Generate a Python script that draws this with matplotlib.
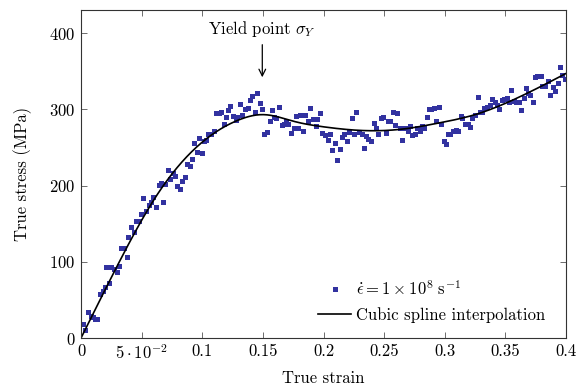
import numpy as np
import matplotlib
matplotlib.use("Agg")
import matplotlib.pyplot as plt

plt.rcParams['font.family'] = 'serif'
plt.rcParams['font.serif'] = ['cmr10']
plt.rcParams['mathtext.fontset'] = 'cm'
plt.rcParams['axes.formatter.use_mathtext'] = True
plt.rcParams['axes.unicode_minus'] = False

# measured points (true strain, true stress MPa)
strain = [0.0014, 0.0035, 0.006, 0.008, 0.0096, 0.0113, 0.0134, 0.0157, 0.018, 0.0195,
          0.021, 0.023, 0.025, 0.027, 0.0294, 0.0316, 0.033, 0.0355, 0.0377, 0.039,
          0.0415, 0.0437, 0.0454, 0.0476, 0.0497, 0.0514, 0.0536, 0.0558, 0.058, 0.0597,
          0.0616, 0.064, 0.066, 0.0676, 0.069, 0.0715, 0.0737, 0.0759, 0.0775, 0.079,
          0.0814, 0.0835, 0.0858, 0.0874, 0.0896, 0.0913, 0.0935, 0.0957, 0.0973, 0.0995,
          0.1017, 0.1034, 0.105, 0.107, 0.1094, 0.1116, 0.1138, 0.1155, 0.1177, 0.1193,
          0.1215, 0.123, 0.1254, 0.1276, 0.129, 0.1314, 0.133, 0.1353, 0.1375, 0.1397,
          0.1413, 0.1435, 0.1452, 0.1474, 0.1495, 0.1512, 0.1534, 0.1556, 0.1573, 0.1595,
          0.161, 0.1633, 0.1655, 0.1672, 0.1688, 0.171, 0.1732, 0.1754, 0.177, 0.179,
          0.181, 0.183, 0.185, 0.1875, 0.189, 0.1913, 0.1935, 0.195, 0.197, 0.199,
          0.2012, 0.2035, 0.205, 0.2073, 0.2095, 0.211, 0.2134, 0.215, 0.2172, 0.2194,
          0.221, 0.2233, 0.2254, 0.227, 0.229, 0.2315, 0.2332, 0.2353, 0.237, 0.2392,
          0.2414, 0.243, 0.2452, 0.2474, 0.249, 0.2513, 0.2535, 0.255, 0.2573, 0.259,
          0.261, 0.263, 0.265, 0.267, 0.2695, 0.271, 0.273, 0.2755, 0.277, 0.2793,
          0.281, 0.283, 0.2854, 0.287, 0.289, 0.2914, 0.293, 0.2953, 0.297, 0.299,
          0.3008, 0.303, 0.3046, 0.307, 0.309, 0.3107, 0.313, 0.3145, 0.3167, 0.319,
          0.321, 0.3227, 0.325, 0.327, 0.329, 0.3305, 0.3326, 0.335, 0.337, 0.339,
          0.3415, 0.343, 0.3447, 0.347, 0.349, 0.351, 0.353, 0.3546, 0.357, 0.359,
          0.3608, 0.363, 0.365, 0.367, 0.369, 0.3706, 0.373, 0.3744, 0.376, 0.379,
          0.3805, 0.383, 0.385, 0.387, 0.389, 0.391, 0.393, 0.3948, 0.397, 0.3992]
stress = [18, 10, 34, 29, 28, 25, 25, 58, 62, 67,
          93, 72, 93, 90, 87, 94, 118, 118, 106, 132,
          145, 139, 153, 153, 163, 184, 167, 175, 179, 185,
          172, 201, 203, 179, 202, 220, 208, 217, 213, 199,
          195, 206, 211, 228, 226, 235, 256, 244, 262, 243,
          259, 260, 268, 267, 272, 295, 295, 297, 281, 290,
          299, 304, 291, 286, 290, 307, 292, 300, 302, 312,
          317, 297, 322, 308, 300, 268, 270, 285, 299, 290,
          288, 303, 280, 281, 285, 281, 269, 275, 291, 275,
          292, 272, 293, 284, 302, 287, 278, 287, 295, 269,
          266, 260, 268, 246, 256, 234, 248, 264, 268, 259,
          270, 288, 267, 296, 270, 268, 249, 265, 261, 258,
          282, 276, 267, 288, 290, 269, 285, 284, 296, 280,
          295, 275, 260, 275, 272, 278, 266, 268, 275, 272,
          278, 276, 290, 300, 301, 302, 284, 303, 281, 259,
          255, 267, 268, 271, 273, 272, 291, 288, 281, 281,
          277, 288, 292, 316, 297, 297, 302, 303, 305, 314,
          309, 306, 300, 312, 313, 315, 309, 325, 311, 310,
          309, 299, 315, 328, 322, 319, 310, 342, 343, 343,
          330, 331, 337, 319, 329, 324, 334, 356, 345, 340]

# spline knots
knot_x = [0.0, 0.03, 0.062, 0.093, 0.13, 0.15, 0.176, 0.2, 0.235, 0.265, 0.295, 0.325, 0.36, 0.4]
knot_y = [0, 95, 186, 247, 286, 293, 284, 277, 272, 274, 282, 293, 315, 347]


def natural_cubic_spline(xk, yk, xs):
    xk = np.asarray(xk, float)
    yk = np.asarray(yk, float)
    n = len(xk)
    h = np.diff(xk)
    A = np.zeros((n, n))
    b = np.zeros(n)
    A[0, 0] = 1
    A[-1, -1] = 1
    for i in range(1, n - 1):
        A[i, i - 1] = h[i - 1]
        A[i, i] = 2 * (h[i - 1] + h[i])
        A[i, i + 1] = h[i]
        b[i] = 3 * ((yk[i + 1] - yk[i]) / h[i] - (yk[i] - yk[i - 1]) / h[i - 1])
    c = np.linalg.solve(A, b)
    out = np.empty_like(xs)
    for j, x in enumerate(xs):
        i = min(max(np.searchsorted(xk, x) - 1, 0), n - 2)
        dx = x - xk[i]
        bb = (yk[i + 1] - yk[i]) / h[i] - h[i] * (2 * c[i] + c[i + 1]) / 3
        d = (c[i + 1] - c[i]) / (3 * h[i])
        out[j] = yk[i] + bb * dx + c[i] * dx ** 2 + d * dx ** 3
    return out


xs = np.linspace(knot_x[0], knot_x[-1], 400)
ys = natural_cubic_spline(knot_x, knot_y, xs)

fig = plt.figure(figsize=(5.77, 3.91), dpi=100)
ax = fig.add_axes([0.1404, 0.1355, 0.8406, 0.8385])

ax.plot(strain, stress, linestyle='none', marker='s', markersize=3.6,
        color='#3232a0', markeredgewidth=0,
        label=r'$\dot{\epsilon} = 1 \times 10^{8}\ \mathrm{s}^{-1}$')
ax.plot(xs, ys, color='black', linewidth=1.2, label='Cubic spline interpolation')

ax.set_xlim(0, 0.4)
ax.set_ylim(0, 430)
xticks = [0, 0.05, 0.1, 0.15, 0.2, 0.25, 0.3, 0.35, 0.4]
xticklabels = ['0', r'$5\cdot10^{-2}$', '0.1', '0.15', '0.2', '0.25', '0.3', '0.35', '0.4']
ax.set_xticks(xticks)
ax.set_xticklabels(xticklabels)
ax.set_yticks([0, 100, 200, 300, 400])
ax.tick_params(direction='in', top=True, right=True, length=4, width=0.6,
               labelsize=12, color='#555555', pad=4)
for s in ax.spines.values():
    s.set_linewidth(0.8)
    s.set_color('#333333')

ax.set_xlabel('True strain', fontsize=12, labelpad=6)
ax.set_ylabel('True stress (MPa)', fontsize=12, labelpad=12)

ax.annotate(r'Yield point $\sigma_Y$', xy=(0.1495, 342), xytext=(0.1495, 392),
            ha='center', va='bottom', fontsize=12,
            arrowprops=dict(arrowstyle='->', color='black', lw=0.9,
                            shrinkA=2, shrinkB=0))

leg = ax.legend(loc='lower right', bbox_to_anchor=(0.985, 0.005), frameon=False,
                fontsize=12, handlelength=2.0, handletextpad=0.3,
                labelspacing=0.55, borderpad=0.3)

fig.savefig('out.png', dpi=100)
